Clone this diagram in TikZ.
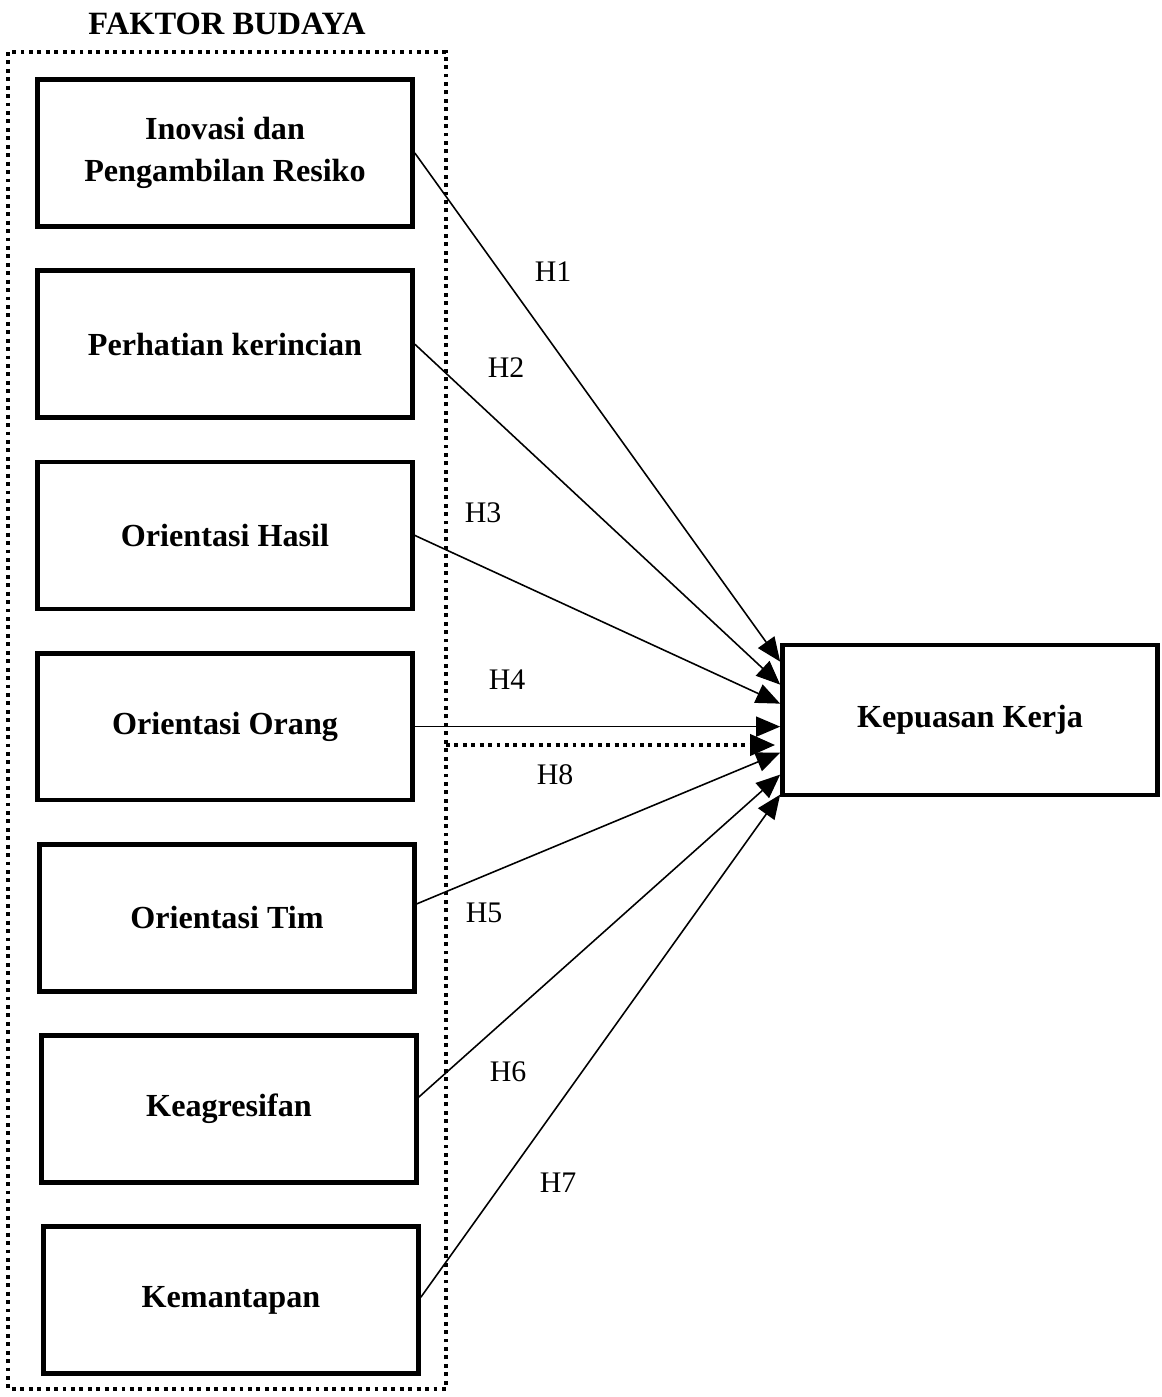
\documentclass[tikz,border=0pt]{standalone}
\usepackage{fontspec}
\setmainfont{Liberation Serif}
\usetikzlibrary{positioning,arrows.meta}

\tikzset{
  faktor/.style={draw, line width=2.7pt, minimum width=7.5cm, minimum height=2.94cm,
    align=center, font=\fontsize{18.3}{24}\selectfont\bfseries},
  panah/.style={line width=0.9pt, -{Triangle[length=0.48cm,width=0.4cm]}},
  hlabel/.style={font=\fontsize{17}{20}\selectfont}
}

\begin{document}
\begin{tikzpicture}[x=0.02cm, y=-0.02cm, node distance=0.79cm]
\useasboundingbox (0,0) rectangle (1162,1397);

% Title and dotted frame
\node[font=\fontsize{18.5}{22}\selectfont\bfseries] (judul) at (227,24) {FAKTOR BUDAYA};
\draw[line width=2.2pt, dash pattern=on 2.2pt off 2.6pt] (8,52) rectangle (446,1389);

% Culture factors
\node[faktor] (inovasi) at (225,153) {Inovasi dan\\Pengambilan Resiko};
\node[faktor, below=of inovasi] (perhatian) {Perhatian kerincian};
\node[faktor, below=of perhatian] (hasil) {Orientasi Hasil};
\node[faktor, below=of hasil] (orang) {Orientasi Orang};
\node[faktor, below=of orang, xshift=0.04cm] (tim) {Orientasi Tim};
\node[faktor, below=of tim, xshift=0.04cm] (agresif) {Keagresifan};
\node[faktor, below=of agresif, xshift=0.04cm] (mantap) {Kemantapan};

% Job satisfaction
\node[faktor, minimum height=3.0cm] (kepuasan) at (970,720) {Kepuasan Kerja};

% Hypotheses
\draw[panah] (inovasi.east) -- ([yshift=-0.38cm]kepuasan.north west);
\draw[panah] (perhatian.east) -- ([yshift=-0.84cm]kepuasan.north west);
\draw[panah] (hasil.east) -- ([yshift=-1.22cm]kepuasan.north west);
\draw[panah] (orang.east) -- (orang.east -| kepuasan.west);
\draw[panah] ([yshift=0.28cm]tim.east) -- ([yshift=-2.2cm]kepuasan.north west);
\draw[panah] ([yshift=0.24cm]agresif.east) -- ([yshift=-2.64cm]kepuasan.north west);
\draw[panah] ([yshift=0.06cm]mantap.east) -- ([yshift=-3.04cm]kepuasan.north west);
\coordinate (awal8) at (446,745);
\draw[line width=2.2pt, dash pattern=on 2.2pt off 2.6pt, -{Triangle[length=0.5cm,width=0.42cm]}]
  (awal8) -- ([xshift=-0.1cm]awal8 -| kepuasan.west);

\node[hlabel] (h1) at (553,272) {H1};
\node[hlabel] (h2) at (506,368) {H2};
\node[hlabel] (h3) at (483,513) {H3};
\node[hlabel] (h4) at (507,680) {H4};
\node[hlabel] (h8) at (555,775) {H8};
\node[hlabel] (h5) at (484,913) {H5};
\node[hlabel] (h6) at (508,1072) {H6};
\node[hlabel] (h7) at (558,1183) {H7};
\end{tikzpicture}
\end{document}
